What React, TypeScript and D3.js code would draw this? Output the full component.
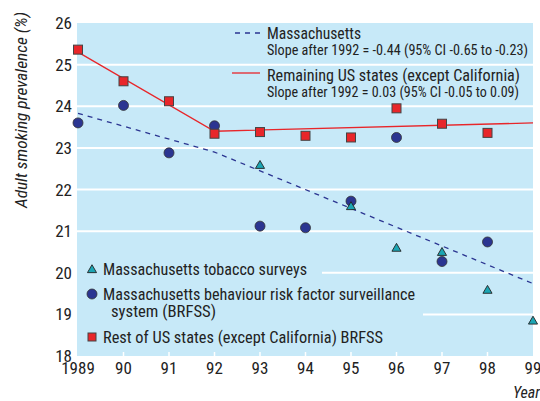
import React, { useEffect, useRef } from 'react';
import * as d3 from 'd3';

// values
const years = [1989, 1990, 1991, 1992, 1993, 1994, 1995, 1996, 1997, 1998, 1999];
const restUS = [25.36, 24.6, 24.12, 23.34, 23.38, 23.29, 23.25, 23.95, 23.58, 23.36];
const restUSYears = [1989, 1990, 1991, 1992, 1993, 1994, 1995, 1996, 1997, 1998];
const maBrfss = [23.6, 24.02, 22.88, 23.53, 21.12, 21.08, 21.72, 23.25, 20.27, 20.74];
const maBrfssYears = [1989, 1990, 1991, 1992, 1993, 1994, 1995, 1996, 1997, 1998];
const maSurveyYears = [1993, 1995, 1996, 1997, 1998, 1999];
const maSurvey = [22.57, 21.58, 20.58, 20.48, 19.57, 18.83];
const restFitYears = [1989, 1992, 1999];
const restFit = [25.3, 23.4, 23.6];
const maFitYears = [1989, 1992, 1999];
const maFit = [23.83, 22.9, 19.74];
const yTicks = [18, 19, 20, 21, 22, 23, 24, 25, 26];
const xTickLabels = ['1989', '90', '91', '92', '93', '94', '95', '96', '97', '98', '99'];

const RED = '#e8262a';
const NAVY = '#2b3591';
const TEAL = '#1ba5b3';
const BG = '#c7e9f8';
const FONT = '"Liberation Sans Narrow", "Roboto Condensed", "Liberation Sans", Arial, sans-serif';

const App = () => {
  const svgRef = useRef<SVGSVGElement>(null);
  const width = 540, height = 401;

  useEffect(() => {
    const svg = d3.select(svgRef.current);
    svg.selectAll('*').remove();

    const x = d3.scaleLinear().domain([1989, 1999]).range([78, 533]);
    const y = d3.scaleLinear().domain([18, 26]).range([356, 23]);

    // plot background
    svg.append('rect')
      .attr('x', 77).attr('y', y(26))
      .attr('width', 533 - 77).attr('height', y(18) - y(26))
      .attr('fill', BG);

    // gridlines
    const grid = svg.append('g').attr('stroke', '#fff').attr('stroke-width', 2);
    [21, 22, 23, 24, 25].forEach(v => {
      grid.append('line').attr('x1', 77).attr('x2', 533).attr('y1', y(v)).attr('y2', y(v));
    });
    grid.append('line').attr('x1', 322).attr('x2', 533).attr('y1', y(20)).attr('y2', y(20));
    grid.append('line').attr('x1', 423).attr('x2', 533).attr('y1', y(19)).attr('y2', y(19));

    // small ticks along the bottom
    svg.append('g').selectAll('line')
      .data(years.slice(1, -1))
      .join('line')
      .attr('x1', d => x(d)).attr('x2', d => x(d))
      .attr('y1', y(18)).attr('y2', y(18) - 4)
      .attr('stroke', '#fff').attr('stroke-width', 1.5);

    // y tick labels
    svg.append('g').selectAll('text')
      .data(yTicks)
      .join('text')
      .attr('x', 72).attr('y', d => y(d) + 6)
      .attr('text-anchor', 'end')
      .attr('font-family', FONT).attr('font-size', 17).attr('fill', '#222')
      .text(d => d);

    // x tick labels
    svg.append('g').selectAll('text')
      .data(years)
      .join('text')
      .attr('x', d => x(d)).attr('y', 374)
      .attr('text-anchor', 'middle')
      .attr('font-family', FONT).attr('font-size', 17).attr('fill', '#222')
      .text((d, i) => xTickLabels[i]);

    // axis titles
    svg.append('text')
      .attr('transform', 'translate(27,110) rotate(-90)')
      .attr('text-anchor', 'middle')
      .attr('font-family', FONT).attr('font-size', 16.5).attr('font-style', 'italic').attr('fill', '#222')
      .attr('textLength', 196).attr('lengthAdjust', 'spacingAndGlyphs')
      .text('Adult smoking prevalence (%)');
    svg.append('text')
      .attr('x', 540).attr('y', 398)
      .attr('text-anchor', 'end')
      .attr('font-family', FONT).attr('font-size', 16).attr('font-style', 'italic').attr('fill', '#222')
      .text('Year');

    const line = d3.line<[number, number]>().x(d => x(d[0])).y(d => y(d[1]));

    // fitted lines
    svg.append('path')
      .attr('d', line(maFitYears.map((yr, i) => [yr, maFit[i]])))
      .attr('fill', 'none').attr('stroke', NAVY).attr('stroke-width', 1.3)
      .attr('stroke-dasharray', '5,5');
    svg.append('path')
      .attr('d', line(restFitYears.map((yr, i) => [yr, restFit[i]])))
      .attr('fill', 'none').attr('stroke', RED).attr('stroke-width', 1.3);

    // MA BRFSS circles
    svg.append('g').selectAll('circle')
      .data(maBrfssYears.map((yr, i) => [yr, maBrfss[i]]))
      .join('circle')
      .attr('cx', d => x(d[0])).attr('cy', d => y(d[1])).attr('r', 5)
      .attr('fill', NAVY).attr('stroke', '#333').attr('stroke-width', 0.8);

    // rest of US squares
    svg.append('g').selectAll('rect')
      .data(restUSYears.map((yr, i) => [yr, restUS[i]]))
      .join('rect')
      .attr('x', d => x(d[0]) - 4.5).attr('y', d => y(d[1]) - 4.5)
      .attr('width', 9).attr('height', 9)
      .attr('fill', RED).attr('stroke', '#444').attr('stroke-width', 1);

    // MA tobacco survey triangles
    const tri = d3.symbol().type(d3.symbolTriangle).size(36);
    svg.append('g').selectAll('path')
      .data(maSurveyYears.map((yr, i) => [yr, maSurvey[i]]))
      .join('path')
      .attr('d', tri)
      .attr('transform', d => `translate(${x(d[0])},${y(d[1])})`)
      .attr('fill', TEAL).attr('stroke', '#222').attr('stroke-width', 0.9);

    // top legend
    const lg = svg.append('g').attr('font-family', FONT).attr('fill', '#222');
    const fit = (t, w) => t.attr('textLength', w).attr('lengthAdjust', 'spacingAndGlyphs');
    lg.append('line').attr('x1', 235).attr('x2', 260).attr('y1', 33).attr('y2', 33)
      .attr('stroke', NAVY).attr('stroke-width', 1.3).attr('stroke-dasharray', '5,5');
    fit(lg.append('text').attr('x', 267).attr('y', 39).attr('font-size', 16).text('Massachusetts'), 94);
    fit(lg.append('text').attr('x', 267).attr('y', 55).attr('font-size', 14)
      .text('Slope after 1992 = -0.44 (95% CI -0.65 to -0.23)'), 261);
    lg.append('line').attr('x1', 232).attr('x2', 260).attr('y1', 73).attr('y2', 73)
      .attr('stroke', RED).attr('stroke-width', 1.3);
    fit(lg.append('text').attr('x', 267).attr('y', 81).attr('font-size', 16)
      .text('Remaining US states (except California)'), 253);
    fit(lg.append('text').attr('x', 267).attr('y', 97).attr('font-size', 14)
      .text('Slope after 1992 = 0.03 (95% CI -0.05 to 0.09)'), 252);

    // bottom legend
    const bl = svg.append('g').attr('font-family', FONT).attr('fill', '#222').attr('font-size', 16.3);
    bl.append('path').attr('d', d3.symbol().type(d3.symbolTriangle).size(36)())
      .attr('transform', 'translate(92,270)')
      .attr('fill', TEAL).attr('stroke', '#222').attr('stroke-width', 0.9);
    fit(bl.append('text').attr('x', 103).attr('y', 275).text('Massachusetts tobacco surveys'), 204);
    bl.append('circle').attr('cx', 92).attr('cy', 294).attr('r', 5)
      .attr('fill', NAVY).attr('stroke', '#333').attr('stroke-width', 0.8);
    fit(bl.append('text').attr('x', 103).attr('y', 300).text('Massachusetts behaviour risk factor surveillance'), 312);
    fit(bl.append('text').attr('x', 111).attr('y', 317).text('system (BRFSS)'), 105);
    bl.append('rect').attr('x', 88).attr('y', 333).attr('width', 8).attr('height', 8)
      .attr('fill', RED).attr('stroke', '#444').attr('stroke-width', 1);
    fit(bl.append('text').attr('x', 103).attr('y', 343).text('Rest of US states (except California) BRFSS'), 280);
  }, []);

  return (
    <svg ref={svgRef} width={width} height={height}
      style={{ position: 'absolute', left: 0, top: 0, background: '#fff' }} />
  );
};

export default App;
